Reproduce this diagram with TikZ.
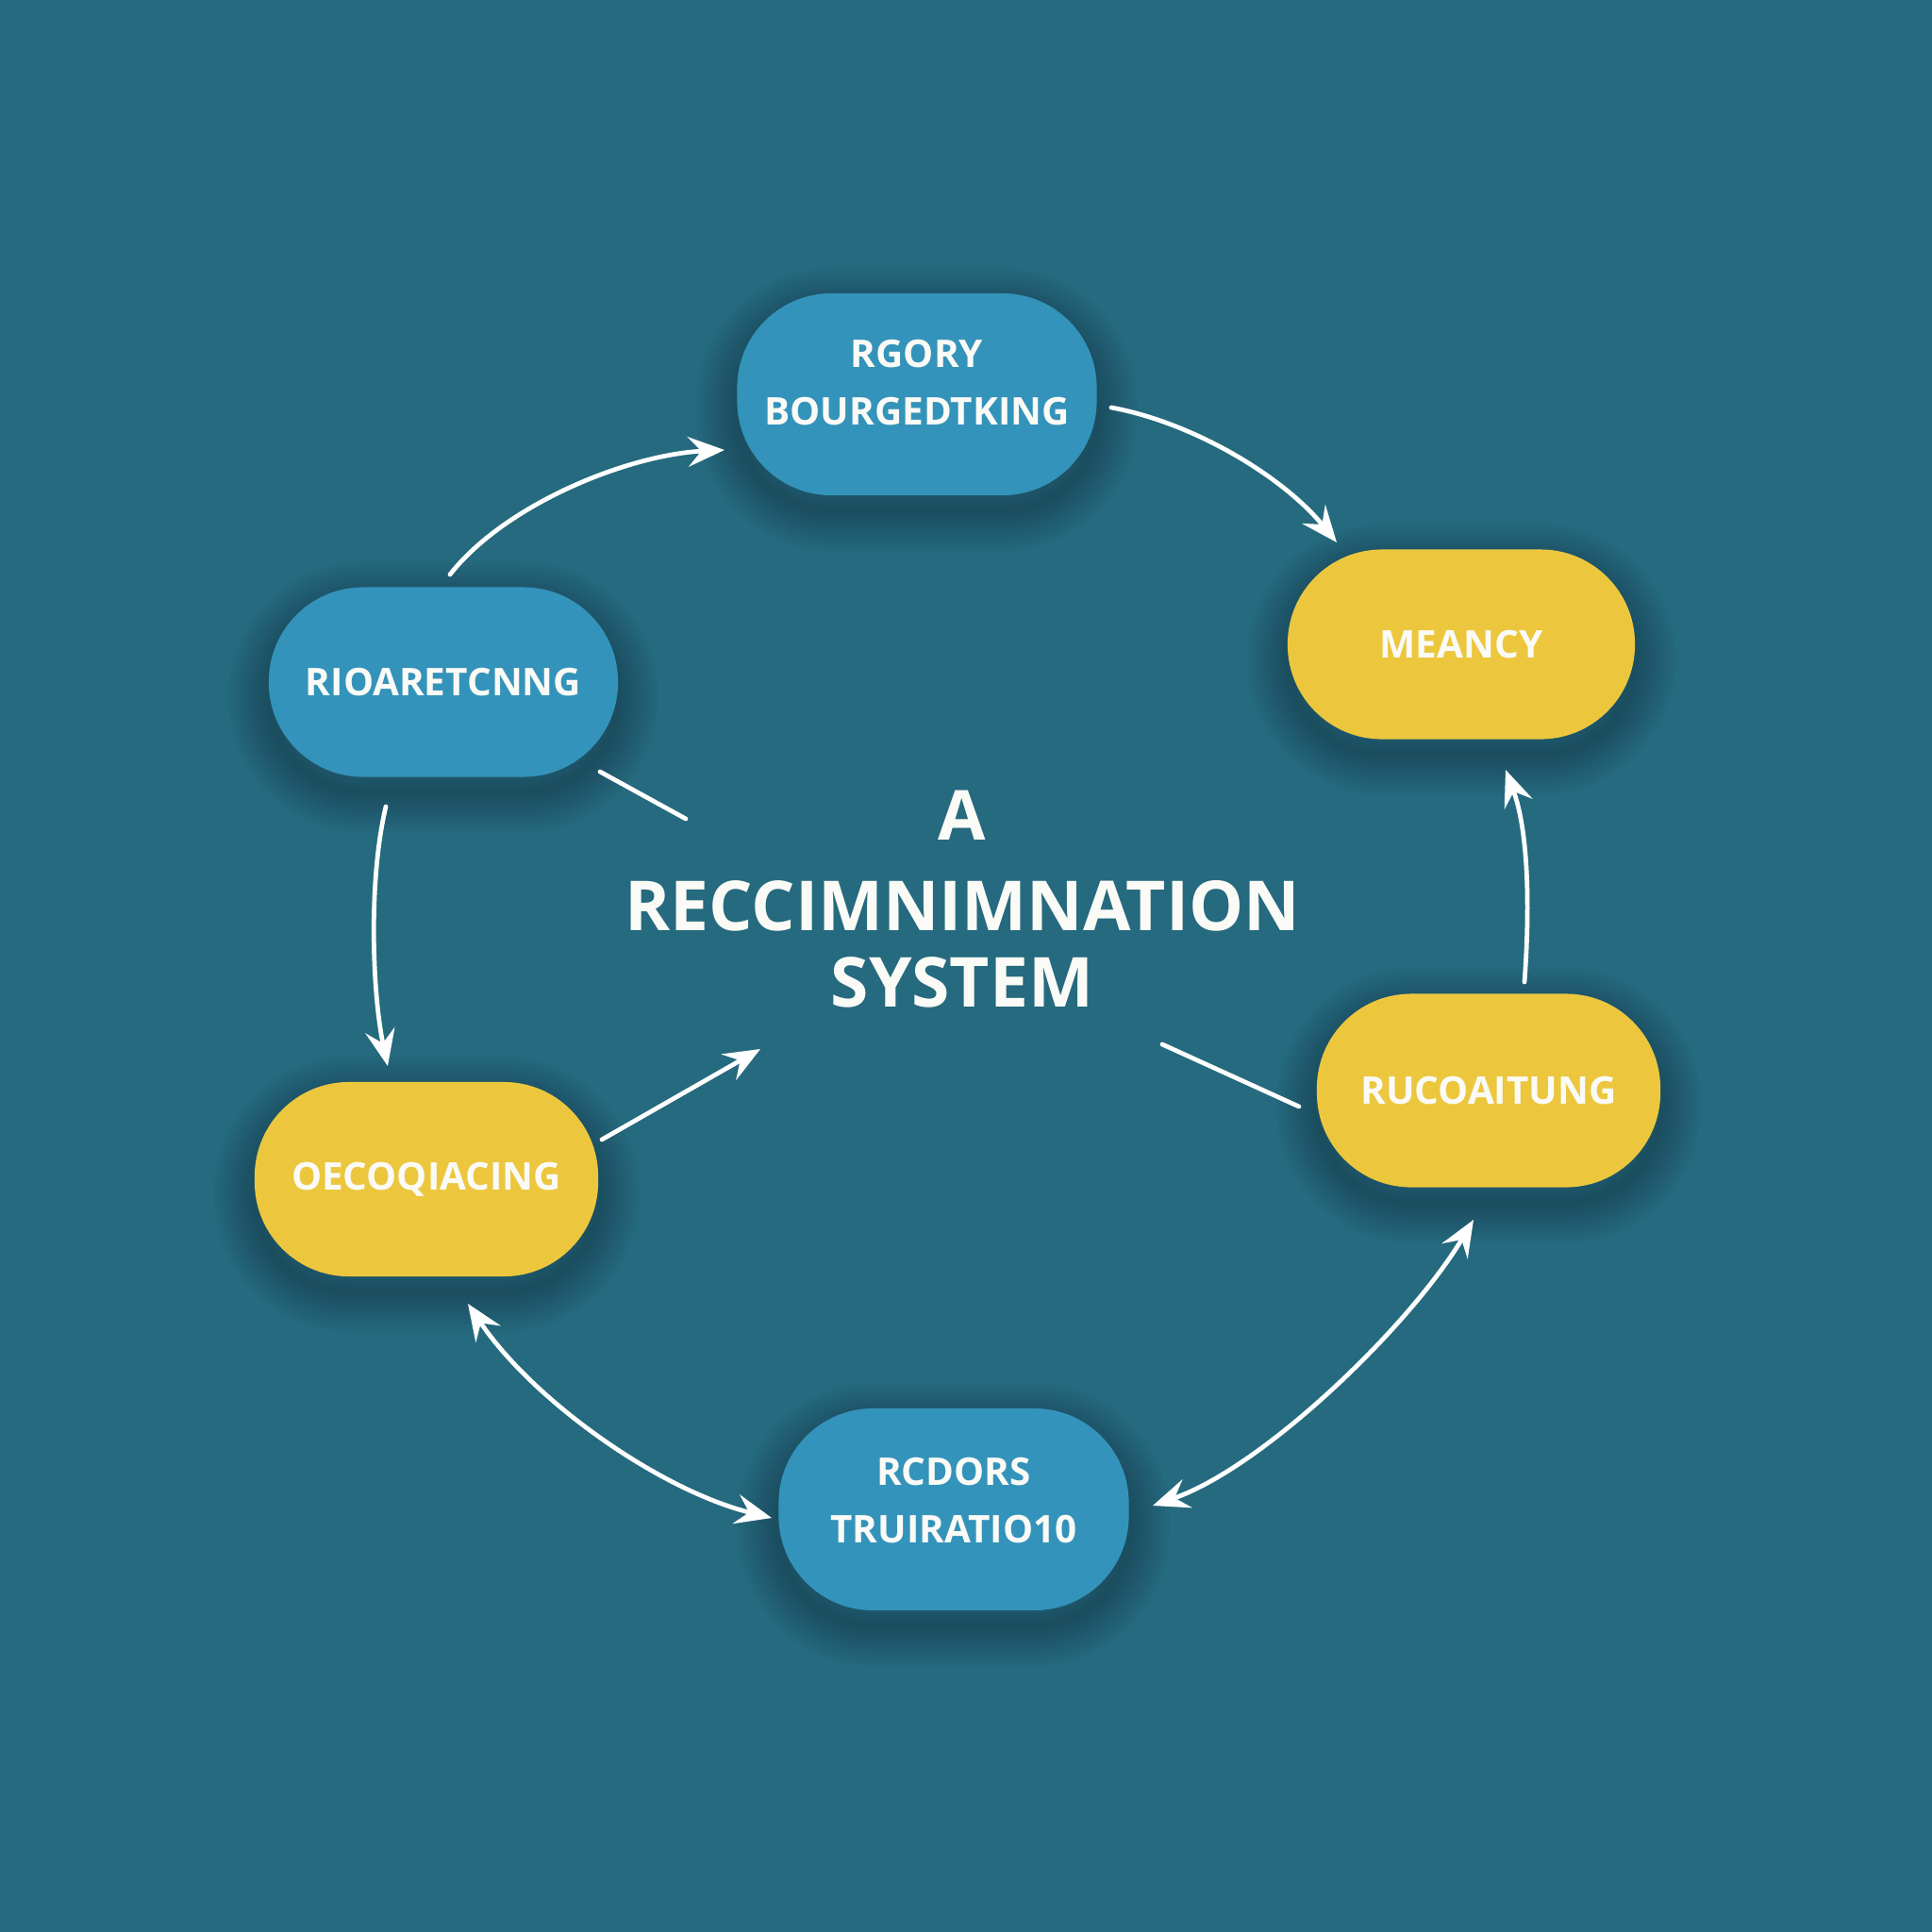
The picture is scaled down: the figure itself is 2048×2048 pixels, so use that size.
\documentclass[tikz,border=0pt]{standalone}
\usepackage{fontspec}
\setmainfont{Open Sans}
\usetikzlibrary{arrows.meta}
\definecolor{bgteal}{RGB}{37,106,126}
\definecolor{pillblue}{RGB}{52,147,186}
\definecolor{pillyellow}{RGB}{236,199,62}
\definecolor{txtwhite}{RGB}{250,250,246}
\tikzset{
  pillshape/.style={rectangle, rounded corners=1.0cm, inner sep=0pt, align=center},
  pilltext/.style={text=txtwhite, font=\bfseries\fontsize{11.5}{17.3}\selectfont},
  flow/.style={draw=white, line width=1.35pt, line cap=round},
  tip/.style={-{Stealth[length=11pt,width=9pt,inset=4pt]}},
  tiptwo/.style={{Stealth[length=11pt,width=9pt,inset=4pt]}-{Stealth[length=11pt,width=9pt,inset=4pt]}},
}
\newcommand\pillnode[7]{%
  \foreach \k in {1,...,10}{%
    \node[pillshape, minimum width=#4, minimum height=#5, draw=black, draw opacity=0.022, line width=\k*0.085cm] at (#2,#3+16) {};}
  \node[pillshape, pilltext, fill=#6, minimum width=#4, minimum height=#5] (#1) at (#2,#3) {#7};
}
\begin{document}
\begin{tikzpicture}[x=0.01cm,y=-0.01cm]
\fill[bgteal] (0,0) rectangle (2048,2048);
\useasboundingbox (0,0) rectangle (2048,2048);

\pillnode{top}{972}{418}{3.81cm}{2.14cm}{pillblue, text depth=0.26cm}{RGORY\\BOURGEDTKING}
\pillnode{left}{470}{723}{3.70cm}{2.01cm}{pillblue}{RIOARETCNNG}
\pillnode{meancy}{1549}{683}{3.68cm}{2.01cm}{pillyellow}{MEANCY}
\pillnode{ruco}{1578}{1156}{3.64cm}{2.05cm}{pillyellow}{RUCOAITUNG}
\pillnode{oeco}{452}{1250}{3.64cm}{2.06cm}{pillyellow}{OECOQIACING}
\pillnode{bottom}{1011}{1600}{3.71cm}{2.14cm}{pillblue, text depth=0.2cm}{RCDORS\\TRUIRATIO10}

\node[text=txtwhite, font=\bfseries\fontsize{20.8}{23}\selectfont, align=center] (title) at (1020,953)
  {A\\[4.5pt]RECCIMNIMNATION\\SYSTEM};

% connector end points
\coordinate (a1s) at (477,609);  \coordinate (a1e) at (768,477);
\coordinate (a2s) at (1178,432); \coordinate (a2e) at (1417,575);
\coordinate (a3s) at (1616,1041);\coordinate (a3e) at (1596,816);
\coordinate (a4s) at (1222,1596);\coordinate (a4e) at (1562,1293);
\coordinate (a5s) at (496,1382); \coordinate (a5e) at (818,1609);
\coordinate (a6s) at (409,855);  \coordinate (a6e) at (411,1130);
\coordinate (l7s) at (636,818);  \coordinate (l7e) at (727,868);
\coordinate (a8s) at (638,1208); \coordinate (a8e) at (806,1112);
\coordinate (l9s) at (1232,1107);\coordinate (l9e) at (1377,1173);

\draw[flow, tip] (a1s) .. controls (535,535) and (665,482) .. (a1e);
\draw[flow, tip] (a2s) .. controls (1265,448) and (1360,505) .. (a2e);
\draw[flow, tip] (a3s) .. controls (1622,960) and (1620,880) .. (a3e);
\draw[flow, tiptwo] (a4s) .. controls (1340,1555) and (1495,1405) .. (a4e);
\draw[flow, tiptwo] (a5s) .. controls (565,1485) and (700,1580) .. (a5e);
\draw[flow, tip] (a6s) .. controls (390,935) and (395,1055) .. (a6e);
\draw[flow] (l7s) -- (l7e);
\draw[flow, tip] (a8s) -- (a8e);
\draw[flow] (l9s) -- (l9e);
\end{tikzpicture}
\end{document}
